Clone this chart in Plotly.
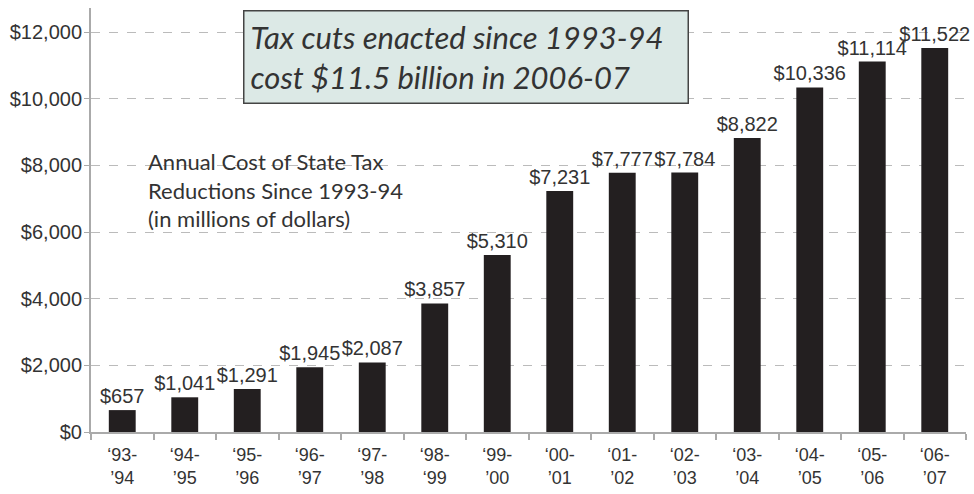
import plotly.graph_objects as go

categories = ["‘93-<br>’94", "‘94-<br>’95", "‘95-<br>’96", "‘96-<br>’97", "‘97-<br>’98",
              "‘98-<br>‘99", "‘99-<br>’00", "‘00-<br>’01", "‘01-<br>’02", "‘02-<br>’03",
              "‘03-<br>’04", "‘04-<br>’05", "‘05-<br>’06", "‘06-<br>’07"]
values = [657, 1041, 1291, 1945, 2087, 3857, 5310, 7231, 7777, 7784, 8822, 10336, 11114, 11522]
labels = ["$" + format(v, ",") for v in values]
ytick_vals = [0, 2000, 4000, 6000, 8000, 10000, 12000]
ytick_text = ["$" + format(v, ",") for v in ytick_vals]

fig = go.Figure()
fig.add_trace(go.Bar(
    x=categories, y=values, text=labels, textposition="outside",
    marker=dict(color="#231f20", line=dict(width=0)),
    width=0.43, cliponaxis=False, constraintext="none",
    textfont=dict(family="Liberation Sans, Arial", size=20, color="#333333"),
))

fig.update_layout(
    width=974, height=494,
    margin=dict(l=91, r=8, t=8, b=62),
    paper_bgcolor="white", plot_bgcolor="white",
    showlegend=False,
    xaxis=dict(
        type="category", showline=True, linecolor="#aaaaaa", linewidth=2,
        ticks="outside", tickson="boundaries", ticklen=6, tickcolor="#aaaaaa", tickwidth=1.5,
        tickfont=dict(family="Liberation Sans, Arial", size=18, color="#333333"),
        ticklabelstandoff=5, automargin=False,
        showgrid=False,
    ),
    yaxis=dict(
        range=[0, 12720], tickvals=ytick_vals, ticktext=ytick_text,
        showline=True, linecolor="#aaaaaa", linewidth=2,
        ticks="outside", ticklen=5, tickcolor="#aaaaaa",
        showgrid=True, gridcolor="#bbbbbb", griddash="dash", gridwidth=1,
        tickfont=dict(family="Liberation Sans, Arial", size=20, color="#333333"),
        ticklabelstandoff=-2, automargin=False,
        zeroline=False,
    ),
)

fig.add_annotation(
    xref="paper", yref="paper", x=(243-91)/875, y=(432-10)/424, xanchor="left", yanchor="top",
    text="<i>Tax cuts enacted since 1993-94<br>cost $11.5 billion in 2006-07</i>",
    showarrow=False, align="left",
    font=dict(family="Lato, Open Sans", size=31, color="#333333"),
    bgcolor="#dce9e6", bordercolor="#444444", borderwidth=1.5, borderpad=6,
    width=431, height=79,
)
fig.add_annotation(
    xref="paper", yref="paper", x=(146-91)/875, y=(432-146)/424, xanchor="left", yanchor="top",
    text="Annual Cost of State Tax<br>Reductions Since 1993-94<br>(in millions of dollars)",
    showarrow=False, align="left",
    font=dict(family="Lato, Open Sans", size=22, color="#333333"),
)

fig.write_html("out.html")
